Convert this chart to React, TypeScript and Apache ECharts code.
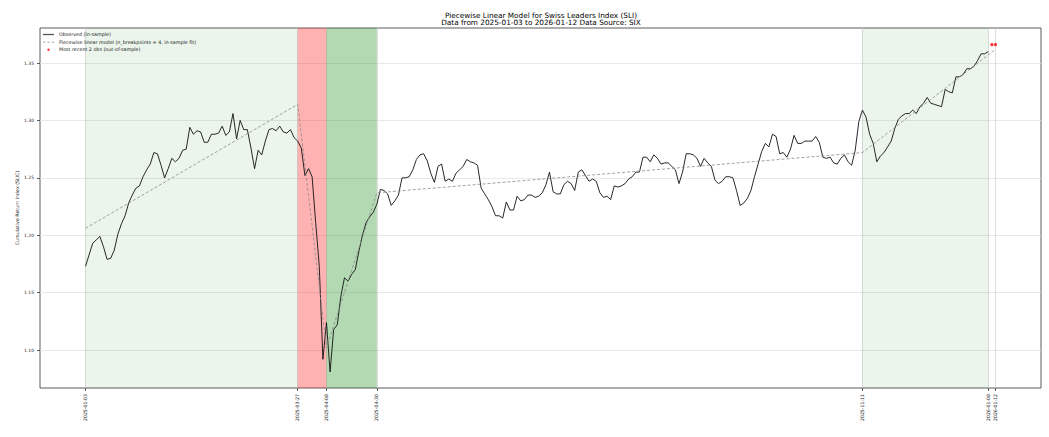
import React, { useEffect, useRef } from 'react';
import * as echarts from 'echarts';

// In-sample observations (trading-day index 0 = 2025-01-03 ... 251 = 2026-01-08)
const observed: number[] = [
  1.173, 1.183, 1.193, 1.196, 1.199, 1.190, 1.179, 1.180, 1.187, 1.201,
  1.210, 1.217, 1.228, 1.235, 1.241, 1.243, 1.251, 1.257, 1.262, 1.272,
  1.271, 1.261, 1.250, 1.258, 1.267, 1.264, 1.267, 1.274, 1.275, 1.294,
  1.288, 1.291, 1.290, 1.281, 1.281, 1.288, 1.288, 1.289, 1.295, 1.287,
  1.290, 1.306, 1.284, 1.300, 1.292, 1.292, 1.276, 1.258, 1.274, 1.270,
  1.282, 1.292, 1.293, 1.291, 1.295, 1.290, 1.289, 1.292, 1.285, 1.282,
  1.276, 1.252, 1.258, 1.251, 1.211, 1.173, 1.092, 1.124, 1.081, 1.118,
  1.122, 1.147, 1.163, 1.160, 1.166, 1.170, 1.186, 1.200, 1.211, 1.216,
  1.220, 1.227, 1.240, 1.239, 1.236, 1.226, 1.230, 1.235, 1.250, 1.250,
  1.251, 1.257, 1.266, 1.270, 1.271, 1.265, 1.254, 1.246, 1.260, 1.262,
  1.247, 1.249, 1.247, 1.254, 1.257, 1.260, 1.266, 1.264, 1.263, 1.261,
  1.241, 1.236, 1.231, 1.225, 1.217, 1.217, 1.215, 1.229, 1.222, 1.222,
  1.234, 1.230, 1.231, 1.235, 1.235, 1.233, 1.234, 1.237, 1.244, 1.255,
  1.238, 1.236, 1.236, 1.244, 1.247, 1.245, 1.239, 1.255, 1.257, 1.252,
  1.247, 1.249, 1.247, 1.237, 1.233, 1.234, 1.231, 1.243, 1.242, 1.243,
  1.245, 1.249, 1.251, 1.255, 1.255, 1.268, 1.268, 1.264, 1.270, 1.267,
  1.262, 1.263, 1.263, 1.260, 1.257, 1.245, 1.255, 1.271, 1.271, 1.270,
  1.267, 1.260, 1.267, 1.263, 1.260, 1.248, 1.245, 1.247, 1.251, 1.251,
  1.250, 1.239, 1.226, 1.228, 1.232, 1.239, 1.251, 1.262, 1.273, 1.280,
  1.277, 1.288, 1.286, 1.271, 1.272, 1.268, 1.275, 1.287, 1.280, 1.280,
  1.282, 1.282, 1.282, 1.286, 1.281, 1.268, 1.267, 1.268, 1.263, 1.262,
  1.267, 1.270, 1.264, 1.261, 1.274, 1.299, 1.309, 1.303, 1.288, 1.280,
  1.264, 1.269, 1.272, 1.277, 1.282, 1.293, 1.301, 1.304, 1.306, 1.306,
  1.309, 1.306, 1.312, 1.315, 1.320, 1.315, 1.314, 1.313, 1.312, 1.327,
  1.325, 1.324, 1.338, 1.338, 1.340, 1.345, 1.345, 1.347, 1.352, 1.358,
  1.358, 1.360,
];

// Out-of-sample (2026-01-09, 2026-01-12)
const outOfSampleIndex: number[] = [252, 253];
const outOfSampleValues: number[] = [1.366, 1.366];

// Piecewise linear fit knots
const modelIndex: number[] = [0, 59, 67, 81, 216, 253];
const modelValues: number[] = [1.206, 1.314, 1.102, 1.237, 1.272, 1.362];

// X ticks (trading-day index) and their date labels
const tickIndex: number[] = [0, 59, 67, 81, 216, 251, 253];
const tickLabels: string[] = [
  '2025-01-03', '2025-03-27', '2025-04-08', '2025-04-30',
  '2025-11-11', '2026-01-08', '2026-01-12',
];

const yTicks: number[] = [1.1, 1.15, 1.2, 1.25, 1.3, 1.35];

// Regime shading
const regimeStart: number[] = [0, 59, 67, 216];
const regimeEnd: number[] = [59, 67, 81, 251];
const regimeKind: string[] = ['trend', 'drawdown', 'rebound', 'trend'];

const titleLines: string[] = [
  'Piecewise Linear Model for Swiss Leaders Index (SLI)',
  'Data from 2025-01-03 to 2026-01-12 Data Source: SIX',
];

const regimeColor: Record<string, string> = {
  trend: 'rgba(0,128,0,0.08)',
  drawdown: 'rgba(255,0,0,0.3)',
  rebound: 'rgba(0,128,0,0.3)',
};

const FONT = 'DejaVu Sans';

const ICON_SOLID = 'path://M0,0M11,6M0,2.35H11V3.65H0Z';
const ICON_DASHED =
  'path://M0,0M11,6M0,2.6H2.4V3.4H0ZM4.3,2.6H6.7V3.4H4.3ZM8.6,2.6H11V3.4H8.6Z';
const ICON_DOT = 'path://M0,0M11,6M4.3,3A1.2,1.2,0,1,0,6.7,3A1.2,1.2,0,1,0,4.3,3Z';

export default function App() {
  const ref = useRef<HTMLDivElement>(null);

  useEffect(() => {
    if (!ref.current) return;
    const chart = echarts.init(ref.current, undefined, { renderer: 'svg' });

    const obsData = observed.map((v, i) => [i, v]);
    const modelData = modelIndex.map((x, i) => [x, modelValues[i]]);
    const oosData = outOfSampleIndex.map((x, i) => [x, outOfSampleValues[i]]);
    const areas = regimeStart.map((s, i) => [
      { xAxis: s, itemStyle: { color: regimeColor[regimeKind[i]] } },
      { xAxis: regimeEnd[i] },
    ]);

    const obsName = 'Observed (in-sample)';
    const modelName = 'Piecewise linear model (n_breakpoints = 4, in-sample fit)';
    const oosName = 'Most recent 2 obs (out-of-sample)';

    const option: any = {
      animation: false,
      backgroundColor: '#ffffff',
      textStyle: { fontFamily: FONT },
      grid: {
        left: 40,
        right: 8,
        top: 28,
        bottom: 49,
        show: true,
        borderColor: '#333',
        borderWidth: 0.8,
        backgroundColor: 'transparent',
      },
      graphic: titleLines.map((t, i) => ({
        type: 'text',
        x: 541,
        y: 15 + i * 7.8,
        silent: true,
        style: {
          text: t,
          fontFamily: FONT,
          fontSize: 7.3,
          fill: '#000',
          textAlign: 'center',
          textVerticalAlign: 'middle',
        },
      })),
      legend: {
        orient: 'vertical',
        left: 43,
        top: 31.5,
        padding: 0,
        itemWidth: 11,
        itemHeight: 6,
        itemGap: 1.6,
        selectedMode: false,
        textStyle: { fontSize: 4.8, color: '#222', fontFamily: FONT },
        data: [
          { name: obsName, icon: ICON_SOLID, itemStyle: { color: '#555' } },
          { name: modelName, icon: ICON_DASHED, itemStyle: { color: '#8a8a8a' } },
          { name: oosName, icon: ICON_DOT, itemStyle: { color: '#ff0000' } },
        ],
      },
      xAxis: {
        type: 'value',
        min: -12.65,
        max: 265.65,
        axisLine: { show: false, onZero: false },
        axisTick: {
          show: true,
          customValues: tickIndex,
          length: 3,
          lineStyle: { color: '#333', width: 0.8 },
        },
        axisLabel: {
          customValues: tickIndex,
          rotate: 90,
          fontSize: 4.65,
          color: '#222',
          margin: 6,
          fontFamily: FONT,
          formatter: (v: number) => {
            const k = tickIndex.indexOf(Math.round(v));
            return k >= 0 ? tickLabels[k] : '';
          },
        },
        splitLine: { show: true, lineStyle: { color: '#d4d4d4', width: 0.8 } },
      },
      yAxis: {
        type: 'value',
        min: 1.067,
        max: 1.3805,
        name: 'Cumulative Return Index (SLIC)',
        nameLocation: 'middle',
        nameGap: 20.5,
        nameMoveOverlap: false,
        nameTextStyle: { fontSize: 4.75, color: '#222', fontFamily: FONT },
        axisLine: { show: false, onZero: false },
        axisTick: {
          show: true,
          customValues: yTicks,
          length: 3,
          lineStyle: { color: '#333', width: 0.8 },
        },
        axisLabel: {
          customValues: yTicks,
          fontSize: 4.5,
          color: '#222',
          margin: 6,
          fontFamily: FONT,
          formatter: (v: number) => v.toFixed(2),
        },
        splitLine: { show: true, lineStyle: { color: '#e3e3e3', width: 0.8 } },
      },
      series: [
        {
          name: obsName,
          type: 'line',
          data: obsData,
          symbol: 'none',
          z: 3,
          lineStyle: { color: '#111', width: 0.9 },
          itemStyle: { color: '#111' },
          markArea: {
            silent: true,
            z: 1,
            data: areas,
          },
        },
        {
          name: modelName,
          type: 'line',
          data: modelData,
          symbol: 'none',
          z: 4,
          lineStyle: { color: '#8a8a8a', width: 0.8, type: [3, 2] },
          itemStyle: { color: '#8a8a8a' },
        },
        {
          name: oosName,
          type: 'scatter',
          data: oosData,
          symbolSize: 3.2,
          z: 5,
          itemStyle: { color: '#ff0000' },
        },
      ],
    };

    chart.setOption(option);
    return () => chart.dispose();
  }, []);

  return (
    <div
      ref={ref}
      style={{ position: 'absolute', left: 0, top: 0, width: 1049, height: 437 }}
    />
  );
}
